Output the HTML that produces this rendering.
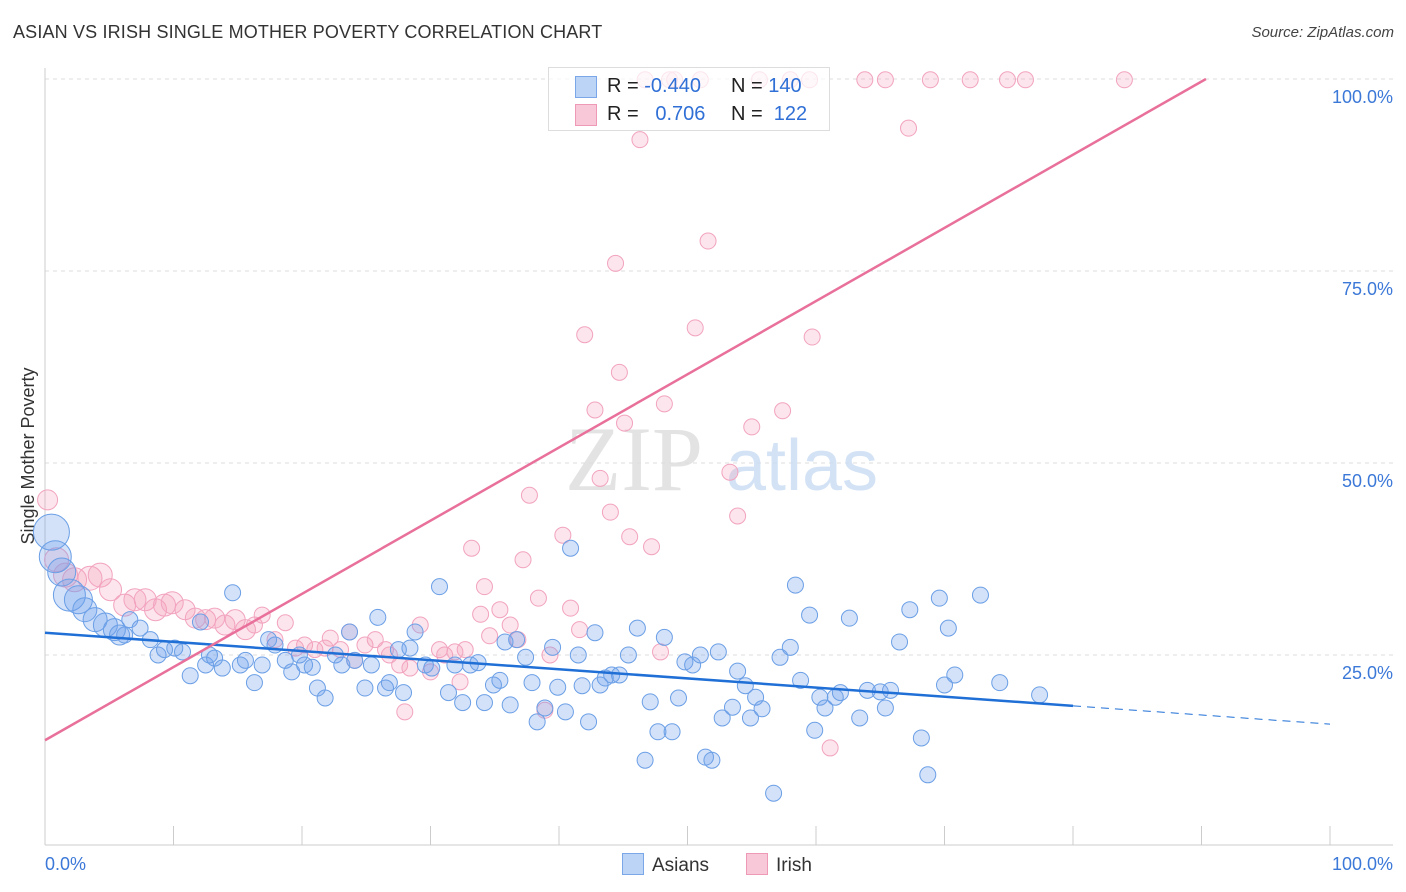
<!DOCTYPE html>
<html><head><meta charset="utf-8"><style>
body{margin:0;background:#fff;font-family:"Liberation Sans",sans-serif;}
#wrap{position:relative;width:1406px;height:892px;overflow:hidden;}
.t{position:absolute;white-space:nowrap;}
</style></head><body>
<div id="wrap">
<div class="t" style="left:13px;top:22px;font-size:18px;letter-spacing:0.16px;color:#333;">ASIAN VS IRISH SINGLE MOTHER POVERTY CORRELATION CHART</div>
<div class="t" style="right:12px;top:24px;font-size:15px;color:#444;font-style:italic;">Source: ZipAtlas.com</div>
<svg id="svg" width="1406" height="892" style="position:absolute;left:0;top:0"></svg>
</div>
<script>
const xTicks=[0,10,20,30,40,50,60,70,80,90,100];
const yTickLabels=["25.0%","50.0%","75.0%","100.0%"];
const yTicks=[25,50,75,100];
const blueX=[0.5,0.8,1.3,1.9,2.6,3.1,3.9,4.7,5.4,5.8,6.2,6.6,7.4,8.2,8.8,9.3,10.1,10.7,11.3,12.1,12.5,12.8,13.2,13.8,14.6,15.2,15.6,16.3,16.9,17.4,17.9,18.7,19.2,19.8,20.2,20.8,21.2,21.8,22.6,23.1,23.7,24.1,24.9,25.4,25.9,26.5,26.8,27.5,27.9,28.4,28.8,29.6,30.1,30.7,31.4,31.9,32.5,33.1,33.7,34.2,34.9,35.4,35.8,36.2,36.7,37.4,37.9,38.3,38.9,39.5,39.9,40.5,40.9,41.5,41.8,42.3,42.8,43.2,43.6,44.1,44.7,45.4,46.1,46.7,47.1,47.7,48.2,48.8,49.3,49.8,50.4,51.0,51.4,51.9,52.4,52.7,53.5,53.9,54.5,54.9,55.3,55.8,56.7,57.2,58.0,58.4,58.8,59.5,59.9,60.3,60.7,61.5,61.9,62.6,63.4,64.0,65.0,65.4,65.8,66.5,67.3,68.2,68.7,69.6,70.0,70.3,70.8,72.8,74.3,77.4];
const blueY=[41.0,37.8,35.8,32.8,32.2,30.9,29.6,28.9,28.3,27.6,27.6,29.6,28.5,27.0,25.0,25.7,25.9,25.4,22.3,29.3,23.7,25.0,24.6,23.3,33.1,23.7,24.3,21.4,23.7,27.0,26.3,24.3,22.8,25.0,23.7,23.4,20.7,19.4,25.0,23.7,28.0,24.3,20.7,23.7,29.9,20.7,21.4,25.7,20.1,25.9,28.0,23.7,23.3,33.9,20.1,23.7,18.8,23.7,24.0,18.8,21.1,21.7,26.7,18.5,27.0,24.7,21.4,16.3,18.1,26.0,20.8,17.6,38.9,25.0,21.0,16.3,27.9,21.1,22.0,22.4,22.4,25.0,28.5,11.3,18.9,15.0,27.3,15.0,19.4,24.1,23.7,25.0,11.7,11.3,25.4,16.8,18.2,22.9,21.0,16.8,19.5,18.0,7.0,24.7,26.0,34.1,21.7,30.2,15.2,19.5,18.1,19.5,20.1,29.8,16.8,20.4,20.2,18.1,20.4,26.7,30.9,14.2,9.4,32.4,21.1,28.5,22.4,32.8,21.4,19.8];
const blueSize=[18,16,14,16,14,12,12,12,11,10];
const pinkX=[0.2,0.9,1.6,2.3,3.5,4.3,5.1,6.2,7.0,7.8,8.6,9.3,9.9,10.9,11.7,12.5,13.2,14.0,14.8,15.6,16.3,16.9,17.9,18.7,19.5,20.2,21.0,21.8,22.2,23.0,23.7,24.1,24.9,25.7,26.5,26.8,27.6,28.0,28.4,29.2,30.0,30.7,31.1,31.9,32.3,32.7,33.2,33.9,34.2,34.6,35.4,36.2,36.8,37.2,37.7,38.4,38.9,39.3,40.3,40.9,41.6,42.0,42.8,43.2,44.0,44.4,44.7,45.1,45.5,46.3,46.7,47.2,47.9,48.2,48.6,49.0,50.6,51.0,51.6,53.3,53.9,55.0,55.6,57.4,58.0,59.5,59.7,61.1,63.8,65.4,67.2,68.9,72.0,74.9,76.3,84.0];
const pinkY=[45.2,37.4,35.4,34.8,35.0,35.4,33.5,31.5,32.2,32.2,30.9,31.5,31.8,30.9,29.8,29.6,29.8,28.9,29.6,28.3,28.9,30.2,27.0,29.2,25.9,26.3,25.7,25.9,27.2,25.7,28.0,24.3,26.3,27.0,25.7,25.0,23.7,17.6,23.3,28.9,22.8,25.7,25.0,25.4,21.5,25.7,38.9,30.3,33.9,27.5,30.9,28.9,27.0,37.4,45.8,32.4,17.8,25.0,40.6,31.1,28.3,66.7,56.9,48.0,43.6,76.0,61.8,55.2,40.4,92.1,99.9,39.1,25.4,57.7,99.9,99.9,67.6,99.9,78.9,48.8,43.1,54.7,99.9,56.8,99.9,99.9,66.4,12.9,99.9,99.9,93.6,99.9,99.9,99.9,99.9,99.9];
const pinkSize=[10,12,12,12,12,12,11,11,11,11,11,11,11,10,10,10,10,10,10,10];
const blueTrend={intercept:27.9,slope:-0.119,solidEnd:80};
const pinkTrend={intercept:13.9,slope:0.953};

const X0=45,X1=1330,Y0=847,Y100=79;
const sx=v=>X0+(X1-X0)*v/100;
const sy=v=>Y0-(Y0-Y100)*v/100;
const NS="http://www.w3.org/2000/svg";
const svg=document.getElementById('svg');
function mk(tag,attrs,parent){const e=document.createElementNS(NS,tag);for(const k in attrs)e.setAttribute(k,attrs[k]);(parent||svg).appendChild(e);return e;}

yTicks.forEach((t,i)=>{
 const g=mk('line',{x1:X0,x2:1393,y1:sy(t),y2:sy(t),stroke:'#ddd','stroke-dasharray':'4,4'});
 
 
 const tx=mk('text',{x:1393,y:sy(t)+24,'text-anchor':'end','font-size':18,fill:'#3b78d8','font-family':'Liberation Sans'});
 tx.textContent=yTickLabels[i];
 
 
});
const ax=mk('line',{x1:X0,x2:1393,y1:845,y2:845,stroke:'#ccc'});


const ay=mk('line',{x1:X0,x2:X0,y1:68,y2:845,stroke:'#ccc'});


xTicks.forEach(t=>{
 const l=mk('line',{x1:sx(t),x2:sx(t),y1:826,y2:845,stroke:'#ccc'});
 
 
});
[[0,'start','0.0%'],[100,'end','100.0%']].forEach(a=>{
 const tx=mk('text',{x:a[0]==0?X0:1393,y:870,'text-anchor':a[1],'font-size':18,fill:'#3b78d8','font-family':'Liberation Sans'});
 tx.textContent=a[2];
 
 
});
const wm=mk('text',{x:634,y:490,'text-anchor':'middle','font-size':92,fill:'#ddd','font-family':'Liberation Serif','opacity':0.8});
wm.textContent='ZIP';


const wm2=mk('text',{x:802,y:490,'text-anchor':'middle','font-size':72,fill:'#c9dcf3','font-family':'Liberation Sans','opacity':0.8});
wm2.textContent='atlas';


const yt=mk('text',{x:34,y:456,'text-anchor':'middle','font-size':18,fill:'#333','font-family':'Liberation Sans',transform:'rotate(-90 34 456)'});
yt.textContent='Single Mother Poverty';



pinkX.forEach((v,i)=>{
 const c=mk('circle',{cx:sx(v),cy:sy(pinkY[i]),r:pinkSize[i]||8,fill:'rgba(244,160,188,0.28)',stroke:'#f2a3bf','stroke-width':1});
 
 
});
blueX.forEach((v,i)=>{
 const c=mk('circle',{cx:sx(v),cy:sy(blueY[i]),r:blueSize[i]||8,fill:'rgba(110,160,235,0.3)',stroke:'#6b9fe6','stroke-width':1});
 
 
});
const bt1=mk('line',{x1:sx(0),y1:sy(blueTrend.intercept),x2:sx(blueTrend.solidEnd),y2:sy(blueTrend.intercept+blueTrend.slope*blueTrend.solidEnd),stroke:'#1f6fd6','stroke-width':2.5});


const bt2=mk('line',{x1:sx(blueTrend.solidEnd),y1:sy(blueTrend.intercept+blueTrend.slope*blueTrend.solidEnd),x2:sx(100),y2:sy(blueTrend.intercept+blueTrend.slope*100),stroke:'#1f6fd6','stroke-width':1,'stroke-dasharray':'8,6'});


const pEnd=(100-pinkTrend.intercept)/pinkTrend.slope;
const pt=mk('line',{x1:sx(0),y1:sy(pinkTrend.intercept),x2:sx(pEnd),y2:sy(100),stroke:'#e8709a','stroke-width':2.5});


</script>
<div class="t" style="left:548px;top:67px;width:280px;height:62px;background:rgba(255,255,255,0.72);border:1px solid #ddd;font-size:20px;color:#222;">
 <div style="position:absolute;left:26px;top:8px;width:20px;height:20px;background:#bcd4f6;border:1px solid #7ba6e8;"></div>
 <div style="position:absolute;left:58px;top:7px;">R = <span style="color:#2f6fd6">-0.440</span></div>
 <div style="position:absolute;left:182px;top:7px;">N = <span style="color:#2f6fd6">140</span></div>
 <div style="position:absolute;left:26px;top:36px;width:20px;height:20px;background:#f9c8d8;border:1px solid #ee9ab7;"></div>
 <div style="position:absolute;left:58px;top:35px;">R = &nbsp;&nbsp;<span style="color:#2f6fd6">0.706</span></div>
 <div style="position:absolute;left:182px;top:35px;">N = &nbsp;<span style="color:#2f6fd6">122</span></div>
</div>
<div class="t" style="left:622px;top:853px;font-size:19px;color:#333;">
 <span style="display:inline-block;width:20px;height:20px;background:#bcd4f6;border:1px solid #7ba6e8;vertical-align:-4px;margin-right:8px;"></span>Asians</div>
<div class="t" style="left:746px;top:853px;font-size:19px;color:#333;">
 <span style="display:inline-block;width:20px;height:20px;background:#f9c8d8;border:1px solid #ee9ab7;vertical-align:-4px;margin-right:8px;"></span>Irish</div>
</body></html>
